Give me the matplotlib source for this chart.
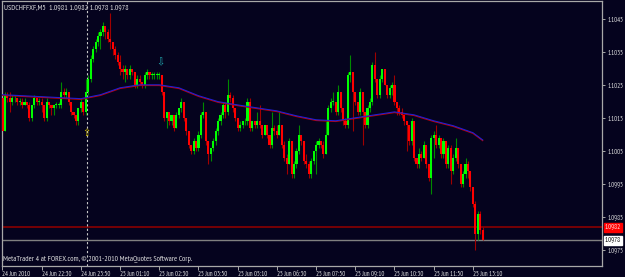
import matplotlib
matplotlib.use("Agg")
import matplotlib.pyplot as plt
import matplotlib.transforms as mtransforms
from matplotlib import font_manager as fm

# USDCHFFXF M5 bars, 24 Jun 21:10 -> 25 Jun 13:20 (open = previous close)
first_open = 1.1021
closes = [
    1.1011, 1.1022, 1.1021, 1.1020, 1.1021, 1.1021, 1.1020, 1.1020, 1.1019, 1.1020,
    1.1019, 1.1015, 1.1019, 1.1021, 1.1020, 1.1020, 1.1019, 1.1015, 1.1020, 1.1019,
    1.1018, 1.1019, 1.1019, 1.1019, 1.1023, 1.1022, 1.1023, 1.1020, 1.1017, 1.1016,
    1.1014, 1.1018, 1.1020, 1.1017, 1.1023, 1.1027, 1.1033, 1.1036, 1.1038, 1.1040,
    1.1041, 1.1043, 1.1041, 1.1039, 1.1038, 1.1036, 1.1034, 1.1032, 1.1030, 1.1029,
    1.1030, 1.1028, 1.1030, 1.1029, 1.1025, 1.1027, 1.1026, 1.1025, 1.1028, 1.1029,
    1.1028, 1.1028, 1.1028, 1.1028, 1.1028, 1.1023, 1.1015, 1.1017, 1.1014, 1.1016,
    1.1012, 1.1016, 1.1018, 1.1020, 1.1015, 1.1011, 1.1007, 1.1005, 1.1008, 1.1006,
    1.1010, 1.1016, 1.1017, 1.1008, 1.1004, 1.1006, 1.1008, 1.1011, 1.1014, 1.1016,
    1.1019, 1.1017, 1.1022, 1.1021, 1.1018, 1.1015, 1.1012, 1.1013, 1.1014, 1.1014,
    1.1020, 1.1012, 1.1014, 1.1013, 1.1014, 1.1013, 1.1010, 1.1013, 1.1010, 1.1007,
    1.1012, 1.1011, 1.1010, 1.1013, 1.1007, 1.1003, 1.1001, 1.1008, 1.0998, 1.1001,
    1.1005, 1.1010, 1.1008, 1.1002, 1.1001, 1.0998, 1.1002, 1.1005, 1.1007, 1.1008,
    1.1007, 1.1004, 1.1010, 1.1018, 1.1020, 1.1020, 1.1017, 1.1023, 1.1018, 1.1014,
    1.1013, 1.1028, 1.1029, 1.1023, 1.1020, 1.1017, 1.1023, 1.1017, 1.1013, 1.1018,
    1.1020, 1.1031, 1.1027, 1.1022, 1.1027, 1.1030, 1.1025, 1.1022, 1.1024, 1.1025,
    1.1020, 1.1018, 1.1017, 1.1016, 1.1014, 1.1013, 1.1008, 1.1014, 1.1003, 1.1001,
    1.1004, 1.1003, 1.1007, 1.1001, 1.0997, 1.1009, 1.1010, 1.1007, 1.1009, 1.1004,
    1.1008, 1.1001, 1.1006, 1.0999, 1.1003, 1.1006, 1.1001, 1.0995, 1.0998, 1.1001,
    1.0999, 1.0994, 1.0989, 1.0980, 1.0986, 1.0981, 1.0978,
]
highs = [
    1.1022, 1.1023, 1.1023, 1.1023, 1.1022, 1.1022, 1.1021, 1.1021, 1.1021, 1.1021,
    1.1020, 1.1020, 1.1019, 1.1022, 1.1021, 1.1021, 1.1021, 1.1019, 1.1021, 1.1020,
    1.1019, 1.1019, 1.1020, 1.1020, 1.1026, 1.1024, 1.1024, 1.1023, 1.1020, 1.1017,
    1.1016, 1.1018, 1.1021, 1.1020, 1.1027, 1.1028, 1.1034, 1.1037, 1.1039, 1.1041,
    1.1042, 1.1044, 1.1043, 1.1042, 1.1047, 1.1038, 1.1037, 1.1035, 1.1034, 1.1031,
    1.1031, 1.1030, 1.1031, 1.1030, 1.1029, 1.1028, 1.1028, 1.1026, 1.1029, 1.1030,
    1.1029, 1.1029, 1.1029, 1.1029, 1.1029, 1.1028, 1.1023, 1.1017, 1.1017, 1.1016,
    1.1016, 1.1017, 1.1018, 1.1021, 1.1020, 1.1015, 1.1011, 1.1007, 1.1009, 1.1008,
    1.1011, 1.1017, 1.1020, 1.1017, 1.1008, 1.1006, 1.1009, 1.1012, 1.1015, 1.1017,
    1.1020, 1.1020, 1.1027, 1.1023, 1.1022, 1.1018, 1.1015, 1.1014, 1.1014, 1.1015,
    1.1021, 1.1021, 1.1014, 1.1014, 1.1017, 1.1019, 1.1013, 1.1013, 1.1013, 1.1010,
    1.1017, 1.1013, 1.1013, 1.1017, 1.1013, 1.1008, 1.1004, 1.1009, 1.1008, 1.1002,
    1.1006, 1.1013, 1.1010, 1.1008, 1.1004, 1.1002, 1.1003, 1.1005, 1.1008, 1.1009,
    1.1008, 1.1008, 1.1014, 1.1019, 1.1021, 1.1023, 1.1020, 1.1025, 1.1023, 1.1018,
    1.1015, 1.1029, 1.1034, 1.1029, 1.1023, 1.1020, 1.1024, 1.1023, 1.1017, 1.1019,
    1.1021, 1.1032, 1.1035, 1.1027, 1.1028, 1.1030, 1.1030, 1.1025, 1.1025, 1.1026,
    1.1028, 1.1020, 1.1019, 1.1018, 1.1016, 1.1014, 1.1013, 1.1015, 1.1014, 1.1003,
    1.1006, 1.1005, 1.1008, 1.1007, 1.1001, 1.1010, 1.1011, 1.1013, 1.1010, 1.1009,
    1.1009, 1.1008, 1.1007, 1.1007, 1.1004, 1.1009, 1.1006, 1.1001, 1.0999, 1.1003,
    1.1002, 1.0999, 1.0994, 1.0990, 1.0987, 1.0987, 1.0982,
]
lows = [
    1.1009, 1.1011, 1.1020, 1.1017, 1.1019, 1.1020, 1.1019, 1.1019, 1.1018, 1.1019,
    1.1018, 1.1014, 1.1014, 1.1018, 1.1019, 1.1019, 1.1017, 1.1014, 1.1014, 1.1018,
    1.1016, 1.1016, 1.1018, 1.1018, 1.1018, 1.1021, 1.1021, 1.1019, 1.1016, 1.1015,
    1.1013, 1.1013, 1.1017, 1.1016, 1.1016, 1.1022, 1.1026, 1.1032, 1.1035, 1.1037,
    1.1036, 1.1040, 1.1039, 1.1038, 1.1036, 1.1034, 1.1033, 1.1031, 1.1028, 1.1027,
    1.1026, 1.1027, 1.1027, 1.1028, 1.1024, 1.1024, 1.1025, 1.1024, 1.1024, 1.1027,
    1.1027, 1.1027, 1.1027, 1.1027, 1.1027, 1.1022, 1.1014, 1.1012, 1.1013, 1.1013,
    1.1011, 1.1012, 1.1015, 1.1017, 1.1014, 1.1010, 1.1006, 1.1004, 1.1004, 1.1005,
    1.1005, 1.1009, 1.1015, 1.1007, 1.1001, 1.1002, 1.1005, 1.1007, 1.1010, 1.1013,
    1.1015, 1.1015, 1.1016, 1.1020, 1.1017, 1.1014, 1.1011, 1.1011, 1.1012, 1.1013,
    1.1013, 1.1011, 1.1011, 1.1012, 1.1012, 1.1012, 1.1009, 1.1010, 1.1009, 1.1006,
    1.1006, 1.1010, 1.1009, 1.1010, 1.1006, 1.1002, 1.0998, 1.1001, 1.0997, 1.0997,
    1.1000, 1.1004, 1.1007, 1.1001, 1.1000, 1.0997, 1.0997, 1.1001, 1.0998, 1.1006,
    1.1006, 1.1003, 1.1004, 1.1010, 1.1017, 1.1019, 1.1016, 1.1016, 1.1017, 1.1013,
    1.1012, 1.1012, 1.1026, 1.1011, 1.1019, 1.1016, 1.1016, 1.1007, 1.1012, 1.1012,
    1.1017, 1.1019, 1.1026, 1.1021, 1.1021, 1.1026, 1.1025, 1.1021, 1.1021, 1.1022,
    1.1019, 1.1016, 1.1016, 1.1015, 1.1013, 1.1005, 1.1007, 1.1007, 1.1002, 1.1000,
    1.1000, 1.1002, 1.1003, 1.1000, 1.0996, 1.0992, 1.1003, 1.1006, 1.1006, 1.1003,
    1.1003, 1.1000, 1.1000, 1.0995, 1.0998, 1.1002, 1.1000, 1.0994, 1.0994, 1.0997,
    1.0997, 1.0993, 1.0988, 1.0975, 1.0978, 1.0980, 1.0978,
]

# moving average at every 8th bar
ma_bars = [0, 8, 16, 24, 32, 40, 48, 56, 64, 72, 80, 88, 96, 104, 112, 120,
           128, 136, 144, 152, 160, 168, 176, 184, 192, 196]
ma_vals = [1.10220, 1.10217, 1.10214, 1.10211, 1.10208, 1.10220, 1.10241, 1.10250,
           1.10250, 1.10241, 1.10217, 1.10199, 1.10189, 1.10180, 1.10171, 1.10156,
           1.10144, 1.10141, 1.10150, 1.10159, 1.10168, 1.10159, 1.10141, 1.10126,
           1.10105, 1.10083]

time_bars = [0, 16, 32, 48, 64, 80, 96, 112, 128, 144, 160, 176, 192]
time_labels = ["24 Jun 2010", "24 Jun 22:30", "24 Jun 23:50", "25 Jun 01:10",
               "25 Jun 02:30", "25 Jun 03:50", "25 Jun 05:10", "25 Jun 06:30",
               "25 Jun 07:50", "25 Jun 09:10", "25 Jun 10:30", "25 Jun 11:50",
               "25 Jun 13:10"]
price_ticks = [1.1045, 1.1035, 1.1025, 1.1015, 1.1005, 1.0995, 1.0985, 1.0975]
ask, bid = 1.0982, 1.0978

# pick a narrow font if one is installed, and size it so "24 Jun 2010" is ~28 px wide
installed = {f.name for f in fm.fontManager.ttflist}
family = "DejaVu Sans"
for cand in ["Liberation Sans Narrow", "Arial Narrow", "PT Sans Narrow", "Roboto Condensed",
             "Open Sans Condensed", "Fira Sans Condensed", "IBM Plex Sans Condensed",
             "Tahoma", "Liberation Sans"]:
    if cand in installed:
        family = cand
        break
plt.rcParams["font.family"] = [family, "DejaVu Sans"]

bg = "#05031e"
fig = plt.figure(figsize=(6.25, 2.77), dpi=100, facecolor=bg)
r = fig.canvas.get_renderer()
probe = fig.text(0, 0, "24 Jun 2010", fontsize=10)
w10 = probe.get_window_extent(r).width
probe.remove()
fs = min(10 * 28.0 / w10, 5.6)

ax = fig.add_axes([2 / 625, 11 / 277, 600 / 625, 265 / 277], facecolor=bg)

opens = [first_open] + closes[:-1]
xs = list(range(len(closes)))
up = [c >= o for o, c in zip(opens, closes)]

# wicks
ax.vlines(xs, lows, highs, colors=["#008a00" if u else "#a00000" for u in up],
          lw=0.8, zorder=2)
# bodies
bottoms = [min(o, c) for o, c in zip(opens, closes)]
heights = [max(abs(c - o), 0.000025) for o, c in zip(opens, closes)]
ax.bar(xs, heights, bottom=bottoms, width=0.85,
       color=["#00ff00" if u else "#ff0000" for u in up], linewidth=0, zorder=3)

# moving averages (red + blue, nearly on top of each other)
ax.plot(ma_bars, [v - 0.00001 for v in ma_vals], color="#c00000", lw=0.9, zorder=4)
ax.plot(ma_bars, [v + 0.00001 for v in ma_vals], color="#2020d0", lw=0.8, zorder=4)

# ask / bid lines
ax.axhline(ask, color="#8a0000", lw=1.2, zorder=1)
ax.axhline(bid, color="#808080", lw=1.0, zorder=1)

# period separator
ax.axvline(34.3, color="#c8c8c8", lw=0.8, ls=(0, (2, 2)), zorder=1)

# signal arrows
ax.text(34.3, 1.10105, "\u21e7", family="DejaVu Sans", color="#d8c400", fontsize=7,
        ha="center", va="center", zorder=5)
ax.text(64.5, 1.10320, "\u21e9", family="DejaVu Sans", color="#20a8b0", fontsize=7,
        ha="center", va="center", zorder=5)

ax.set_xlim(-0.2, 244.7)
ax.set_ylim(1.09702, 1.10505)

for s in ax.spines.values():
    s.set_color("#a8a8a8")
    s.set_linewidth(0.9)

ax.yaxis.tick_right()
ax.set_yticks(price_ticks)
ax.set_yticklabels([f"{p:.4f}" for p in price_ticks])
ax.tick_params(axis="y", colors="#a8a8a8", labelcolor="#e0e0e0", length=2.5,
               width=0.7, labelsize=fs, pad=1.5)

ax.set_xticks(time_bars)
ax.set_xticklabels(time_labels)
ax.tick_params(axis="x", colors="#a8a8a8", labelcolor="#e0e0e0", length=3,
               width=0.7, labelsize=fs, pad=0.5)
for lbl in ax.get_xticklabels():
    lbl.set_horizontalalignment("left")

# ask / bid price tags
tr = mtransforms.blended_transform_factory(ax.transAxes, ax.transData)
ax.text(1.005, ask, f"{ask:.4f}", transform=tr, fontsize=fs, color="#ffe0e0",
        va="center", ha="left", clip_on=False,
        bbox=dict(boxstyle="square,pad=0.15", facecolor="#ff0000", edgecolor="#ff0000"))
ax.text(1.005, bid, f"{bid:.4f}", transform=tr, fontsize=fs, color="#000000",
        va="center", ha="left", clip_on=False,
        bbox=dict(boxstyle="square,pad=0.15", facecolor="#ffffff", edgecolor="#ffffff"))

ax.text(0.004, 0.985, "USDCHFFXF,M5  1.0981 1.0982 1.0978 1.0978", transform=ax.transAxes,
        fontsize=fs * 1.15, color="#e0e0e0", va="top", ha="left")
ax.text(0.002, 0.012, "MetaTrader 4 at FOREX.com, \u00a9 2001-2010 MetaQuotes Software Corp.",
        transform=ax.transAxes, fontsize=fs * 1.18, color="#e0e0e0", va="bottom", ha="left")

fig.savefig("out.png", dpi=100, facecolor=bg)
